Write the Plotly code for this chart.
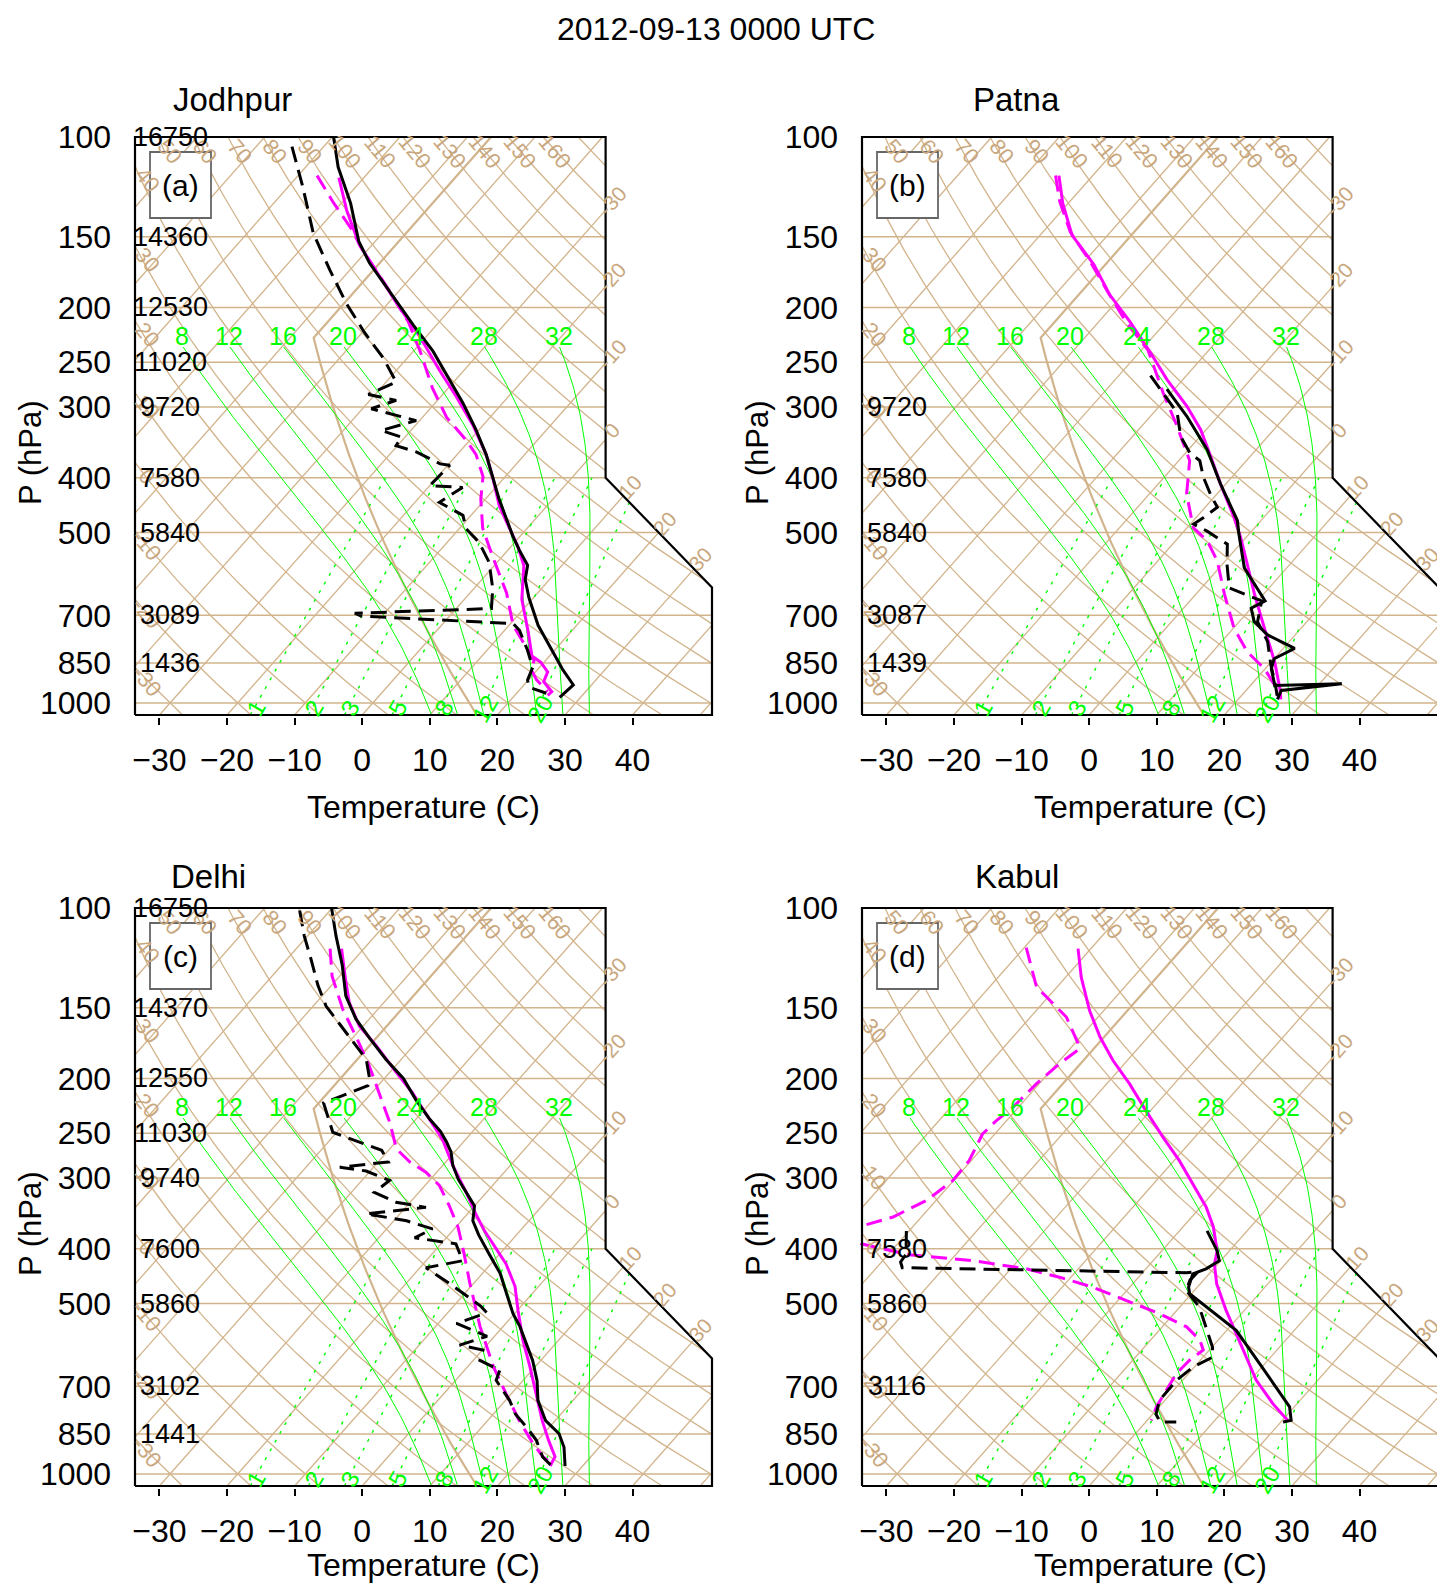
import numpy as np
import plotly.graph_objects as go

# ---------------------------------------------------------------
# soundings: pressure (hPa) and temperature (C)
# T = observed temperature, TD = observed dew point,
# MT / MTD = model temperature / dew point
# ---------------------------------------------------------------

# Jodhpur
JOD_T_P = [100, 113, 131, 153, 167, 188, 215, 239, 262, 295, 328, 364, 436, 506, 537, 571, 605, 651, 729, 809, 874, 929, 977]
JOD_T = [-79.8, -75.2, -68.6, -62.4, -58.0, -51.2, -43.4, -37.1, -32.2, -25.9, -20.6, -15.7, -8.0, -1.2, 1.7, 4.9, 6.4, 9.3, 14.3, 19.7, 23.8, 27.3, 26.9]
JOD_TD_P = [104, 122, 148, 172, 197, 221, 246, 271, 285, 292, 302, 317, 330, 339, 351, 360, 378, 380, 413, 416, 442, 466, 492,
            520, 564, 628, 681, 694, 702, 724, 744, 807, 865, 911, 938, 961]
JOD_TD = [-84.7, -78.0, -70.2, -62.9, -56.1, -49.8, -43.5, -38.5, -41.0, -36.1, -38.7, -30.5, -34.4, -30.5, -30.2, -26.4, -21.3, -19.7, -20.0, -14.9, -16.4, -11.2, -9.0,
          -5.3, -1.2, 2.8, 5.2, -14.4, -13.1, 10.4, 12.2, 16.0, 19.0, 19.9, 21.1, 24.4]
JOD_MT_P = [118, 135, 155, 177, 200, 225, 258, 287, 323, 364, 404, 449, 491, 529, 572, 656, 747, 826, 847, 881, 917, 955, 970]
JOD_MT = [-73.7, -68.2, -61.9, -54.6, -47.8, -41.0, -33.7, -27.8, -21.5, -15.7, -11.3, -7.0, -2.6, 1.0, 4.4, 8.5, 13.6, 17.4, 19.5, 21.8, 22.5, 25.0, 24.9]
JOD_MTD_P = [117, 130, 146, 157, 185, 212, 239, 278, 313, 343, 364, 398, 436, 491, 549, 639, 729, 809, 841, 875, 910, 955]
JOD_MTD = [-77.2, -71.5, -64.9, -61.2, -52.0, -44.6, -39.0, -32.3, -26.4, -20.6, -17.2, -13.3, -10.7, -6.6, -1.6, 5.4, 10.6, 16.3, 18.3, 19.2, 21.2, 24.4]
JOD_Z_P = [100, 150, 200, 250, 300, 400, 500, 700, 850]
JOD_Z = ["16750", "14360", "12530", "11020", "9720", "7580", "5840", "3089", "1436"]

# Patna
PAT_T_P = [279, 311.5, 357, 410, 476, 503, 577, 660, 680, 718, 758, 801, 835, 870, 931, 925, 950, 985]
PAT_T = [-31.1, -24.6, -17.2, -10.8, -3.5, -1.5, 3.7, 11.1, 10.0, 12.2, 15.9, 21.7, 20.0, 20.9, 23.6, 33.3, 25.2, 25.8]
PAT_TD_P = [264, 283, 307, 338, 362, 373, 399, 427, 451, 470, 483, 497, 524, 569, 626, 642, 660, 718, 779, 858, 919, 971]
PAT_TD = [-35.3, -31.2, -26.5, -22.9, -19.3, -16.9, -14.2, -11.0, -8.2, -8.9, -9.5, -6.6, -1.9, 0.7, 4.1, 7.2, 10.6, 12.7, 16.8, 20.4, 23.2, 25.3]
PAT_MT_P = [117, 131, 149, 168, 190, 212, 240, 268, 299, 329, 367, 410, 470, 510, 569, 643, 738, 846, 944, 985]
PAT_MT = [-75.0, -70.8, -65.3, -58.2, -51.9, -45.4, -38.4, -32.4, -25.9, -20.8, -15.8, -10.8, -4.4, -0.8, 3.7, 8.7, 14.6, 20.5, 24.8, 26.3]
PAT_MTD_P = [117, 130, 147, 167, 188, 212, 238, 283, 324, 373, 427, 490, 517, 561, 642, 738, 813, 870, 931, 972]
PAT_MTD = [-75.5, -71.5, -66.0, -58.8, -52.5, -46.0, -39.0, -31.2, -24.8, -18.4, -14.5, -9.1, -5.3, -1.2, 4.2, 10.1, 15.2, 19.9, 23.6, 25.4]
PAT_Z_P = [300, 400, 500, 700, 850]
PAT_Z = ["9720", "7580", "5840", "3087", "1439"]

# Delhi
DEL_T_P = [100, 112, 126, 143, 157, 170, 185, 200, 218, 236, 248, 259, 270, 285, 302, 336, 357, 378, 409, 442, 480, 521, 549,
           588, 630, 684, 741, 805, 849, 897, 968]
DEL_T = [-80.1, -75.8, -71.1, -66.5, -62.0, -57.4, -52.3, -47.2, -42.6, -38.0, -34.8, -32.5, -30.5, -28.5, -25.8, -20.0, -18.3, -15.6, -11.5, -7.4, -3.8, -0.2, 2.5,
         5.7, 8.8, 12.1, 14.8, 18.6, 22.3, 24.8, 27.4]
DEL_TD_P = [101, 112, 123, 137, 149, 163.5, 175, 185, 200, 206, 221, 249, 268, 281, 287, 291.5, 303, 318, 331, 338, 347, 357, 369,
            382.5, 392, 420, 432, 466, 505, 519, 542, 571, 592, 604, 630, 655, 683, 741, 784, 826, 872, 933, 972]
DEL_TD = [-84.5, -80.5, -76.5, -72.0, -68.1, -62.6, -58.5, -55.2, -52.2, -51.5, -55.8, -50.6, -41.0, -38.5, -45.0, -40.6, -35.9, -36.6, -32.1, -27.0, -35.0, -28.1, -23.2,
          -24.7, -17.8, -14.6, -19.1, -12.6, -6.0, -4.2, -7.3, -1.1, -4.0, 0.1, 1.0, 5.2, 6.0, 10.6, 13.3, 16.6, 19.8, 22.9, 25.7]
DEL_MT_P = [118, 133, 147, 161.5, 175, 195, 212, 236, 256, 285, 318, 349, 373, 425, 466, 514, 580, 646, 721, 805, 872, 932, 968]
DEL_MT = [-73.3, -68.9, -65.1, -60.6, -55.5, -49.1, -44.0, -38.0, -33.5, -28.5, -23.0, -18.5, -15.1, -7.8, -3.5, 0.1, 4.7, 9.2, 13.7, 18.1, 21.6, 24.7, 25.2]
DEL_MTD_P = [118, 132, 151, 170, 190, 212, 239, 266.5, 281, 293, 309, 335.5, 366, 404, 460, 549, 646, 721, 805, 883, 932, 956]
DEL_MTD = [-75.0, -71.1, -65.2, -59.3, -53.9, -48.9, -43.5, -39.0, -35.3, -31.6, -27.9, -23.8, -19.7, -15.7, -10.6, -3.4, 3.8, 9.2, 14.7, 19.7, 22.9, 24.9]
DEL_Z_P = [100, 150, 200, 250, 300, 400, 500, 700, 850]
DEL_Z = ["16750", "14370", "12550", "11030", "9740", "7600", "5860", "3102", "1441"]

# Kabul
KAB_T_P = [372, 403.5, 420, 434, 443, 467.5, 480, 557.5, 638, 702, 761, 804, 809]
KAB_T = [-15.9, -11.8, -10.2, -11.1, -12.4, -11.3, -10.3, 1.4, 9.2, 14.7, 19.3, 21.3, 20.3]
KAB_TD_P = [372, 409, 422, 432, 441, 439, 454.5, 474, 507, 550, 597, 622, 647, 683, 741, 784, 809, 809]
KAB_TD = [-60.4, -57.4, -57.2, -56.2, -13.5, -11.9, -12.0, -11.2, -7.1, -3.5, 0.1, 1.4, -0.2, -0.9, -0.8, 0.5, 2.1, 4.5]
KAB_MT_P = [118, 132.5, 151.8, 169, 186, 204.5, 228, 254, 279.5, 307, 338, 366, 403.5, 425.5, 461, 514, 597, 683, 751, 804]
KAB_MT = [-71.9, -67.7, -62.1, -57.1, -52.1, -46.6, -40.7, -34.7, -29.2, -24.2, -19.1, -15.5, -11.8, -10.5, -7.6, -2.7, 4.5, 10.9, 16.4, 20.8]
KAB_MTD_P = [117.5, 129.5, 138, 143.5, 155.8, 173.5, 177.6, 188.5, 204.5, 225, 237.5, 250.7, 279.5, 303, 328.5, 351.5, 364, 377, 392,
             409.8, 420.5, 434, 449, 467.5, 493, 521, 549.5, 580, 604, 630, 665, 711, 761, 804]
KAB_MTD = [-79.7, -75.7, -73.0, -70.3, -64.7, -59.5, -58.6, -59.6, -60.4, -60.8, -61.5, -61.8, -60.3, -60.1, -61.4, -64.2, -67.5, -68.2, -65.4,
           -56.9, -46.2, -37.7, -31.7, -25.5, -18.8, -12.1, -6.4, -2.7, -0.9, -1.6, -1.8, -1.1, -0.4, 0.6]
KAB_Z_P = [400, 500, 700]
KAB_Z = ["7580", "5860", "3116"]

# background values
ISOBARS = [1000, 850, 700, 500, 400, 300, 250, 200, 150]
ISOTHERMS = list(range(-100, 60, 10))
THETAS = list(range(-30, 180, 10))
THETA_LABELS = list(range(-30, 170, 10))
PSEUDO = [8, 12, 16, 20, 24, 28, 32]
MIXRAT = [1, 2, 3, 5, 8, 12, 20]
P_TICKS = [100, 150, 200, 250, 300, 400, 500, 700, 850, 1000]
T_TICKS = [-30, -20, -10, 0, 10, 20, 30, 40]

PANELS = [
    ("Jodhpur", "(a)", (JOD_T_P, JOD_T), (JOD_TD_P, JOD_TD), (JOD_MT_P, JOD_MT), (JOD_MTD_P, JOD_MTD), (JOD_Z_P, JOD_Z)),
    ("Patna", "(b)", (PAT_T_P, PAT_T), (PAT_TD_P, PAT_TD), (PAT_MT_P, PAT_MT), (PAT_MTD_P, PAT_MTD), (PAT_Z_P, PAT_Z)),
    ("Delhi", "(c)", (DEL_T_P, DEL_T), (DEL_TD_P, DEL_TD), (DEL_MT_P, DEL_MT), (DEL_MTD_P, DEL_MTD), (DEL_Z_P, DEL_Z)),
    ("Kabul", "(d)", (KAB_T_P, KAB_T), (KAB_TD_P, KAB_TD), (KAB_MT_P, KAB_MT), (KAB_MTD_P, KAB_MTD), (KAB_Z_P, KAB_Z)),
]

# ---------------------------------------------------------------
# skew-T geometry (same coordinates as the NCL skewT background)
# ---------------------------------------------------------------
W, H = 1445, 1594              # page size
M = 8                          # default body margin of the html page
FIGW, FIGH = W - M, H - 2 * M
XMIN, XMAX = -19.0, 27.1
YMIN, YMAX = -0.9346217, 44.061
PAD = 0.15
FW, FH = 577.0, 578.0          # frame size in pixels
UX = FW / (XMAX - XMIN)
UY = FH / (YMAX - YMIN)
FRAME_PX = [(135, 137), (862, 137), (135, 908), (862, 908)]   # frame top-left on the page
TITLE_PX = [(171, 100), (971, 100), (169, 876), (973, 876)]   # left end of the station names

TAN = "#D2B48C"
TANTXT = "#C9A77E"
GREEN = "#00FF00"
FONT = "Liberation Sans, Arial, sans-serif"


def px2paper(x, y):
    return (x - M) / FIGW, 1 - (y - M) / FIGH


def sky(p):
    return 132.182 - 44.061 * np.log10(np.asarray(p, dtype=float))


def skx(t, y):
    return 0.54 * np.asarray(t, dtype=float) + 0.90692 * y


# the frame is concave (cut corner), so clip against its two convex halves
PART_A = np.array([[XMIN, YMIN], [18.6, YMIN], [18.6, YMAX], [XMIN, YMAX]])
PART_B = np.array([[18.6, YMIN], [XMAX, YMIN], [XMAX, 9.0], [18.6, 17.53]])
FRAME = [[XMIN, YMIN], [XMAX, YMIN], [XMAX, 9.0], [18.6, 17.53], [18.6, YMAX], [XMIN, YMAX], [XMIN, YMIN]]


def clip_t(a, b, poly):
    t0, t1 = 0.0, 1.0
    d = b - a
    n = len(poly)
    for i in range(n):
        e = poly[(i + 1) % n] - poly[i]
        nrm = np.array([-e[1], e[0]])
        num = nrm @ (a - poly[i])
        den = nrm @ d
        if abs(den) < 1e-12:
            if num < 0:
                return None
            continue
        t = -num / den
        if den > 0:
            t0 = max(t0, t)
        else:
            t1 = min(t1, t)
        if t0 > t1:
            return None
    return [t0, t1]


def clip_line(xs, ys):
    pts = np.column_stack([np.asarray(xs, float), np.asarray(ys, float)])
    pieces, cur = [], []
    for i in range(len(pts) - 1):
        a, b = pts[i], pts[i + 1]
        ivs = [r for r in (clip_t(a, b, PART_A), clip_t(a, b, PART_B)) if r is not None and r[1] - r[0] > 1e-12]
        ivs.sort()
        merged = []
        for t0, t1 in ivs:
            if merged and t0 <= merged[-1][1] + 1e-9:
                merged[-1][1] = max(merged[-1][1], t1)
            else:
                merged.append([t0, t1])
        for t0, t1 in merged:
            if not (cur and t0 < 1e-9):
                if cur:
                    pieces.append(cur)
                cur = [list(a + t0 * (b - a))]
            cur.append(list(a + t1 * (b - a)))
            if t1 < 1 - 1e-9:
                pieces.append(cur)
                cur = []
        if not merged and cur:
            pieces.append(cur)
            cur = []
    if cur:
        pieces.append(cur)
    return [np.array(p) for p in pieces if len(p) > 1]


def wobf(t):
    # Wobus function used by the classic skew-T programs
    x = t - 20.0
    if x <= 0:
        pol = 1 + x * (-8.8416605e-03 + x * (1.4714143e-04 + x * (-9.6719890e-07
                       + x * (-3.2607217e-08 + x * (-3.8598073e-10)))))
        return 15.130 / pol ** 4
    pol = 1 + x * (3.6182989e-03 + x * (-1.3603273e-05 + x * (4.9618922e-07 + x * (-6.1059365e-09
                   + x * (3.9401551e-11 + x * (-1.2588129e-13 + x * 1.6688280e-16))))))
    return 29.930 / pol ** 4 + 0.96 * x - 14.8


def satlft(thw, p):
    # temperature where the moist adiabat thw (C) crosses pressure p
    if abs(p - 1000.0) < 1e-9:
        return thw
    pwrp = (p / 1000.0) ** 0.28541
    tone = (thw + 273.15) * pwrp - 273.15
    eone = wobf(tone) - wobf(thw)
    rate = 1.0
    ttwo, dor = tone, 0.0
    for _ in range(60):
        ttwo = tone - eone * rate
        pt = (ttwo + 273.15) / pwrp - 273.15
        etwo = pt + wobf(ttwo) - wobf(pt) - thw
        dor = etwo * rate
        if abs(dor) < 0.005 or abs(etwo - eone) < 1e-12:
            break
        rate = (ttwo - tone) / (etwo - eone)
        tone, eone = ttwo, etwo
    return ttwo - dor


def dewpoint_from_w(w, p):
    e = w * p / (622.0 + w)
    a = np.log(e / 6.112)
    return 243.5 * a / (17.67 - a)


def join(sets):
    xs, ys = [], []
    for pieces in sets:
        for s in pieces:
            xs += list(s[:, 0]) + [None]
            ys += list(s[:, 1]) + [None]
    return xs, ys


# background line sets (diagram coordinates)
yy = np.array([YMIN, YMAX])
iso_sets = [clip_line(skx(t, yy), yy) for t in ISOTHERMS]
bar_sets = [clip_line(np.array([XMIN, XMAX]), np.full(2, sky(p))) for p in ISOBARS]

pp = np.geomspace(1050, 100, 260)
theta_sets = []
for th in THETAS:
    tt = (th + 273.15) * (pp / 1000.0) ** 0.2857 - 273.15
    theta_sets.append(clip_line(skx(tt, sky(pp)), sky(pp)))

pw = np.geomspace(1050, 235, 90)
moist_sets = []
for thw in PSEUDO:
    mt = np.array([satlft(thw, p) for p in pw])
    moist_sets.append(clip_line(skx(mt, sky(pw)), sky(pw)))

pm = np.geomspace(1050, 400, 60)
mix_sets = [clip_line(skx(dewpoint_from_w(w, pm), sky(pm)), sky(pm)) for w in MIXRAT]

std_p = np.concatenate([np.geomspace(1050, 226.32, 80), np.geomspace(226.32, 100, 20)[1:]])
std_t = np.where(std_p >= 226.32, 288.15 * (std_p / 1013.25) ** 0.190263 - 273.15, -56.5)
std_set = clip_line(skx(std_t, sky(std_p)), sky(std_p))

fig = go.Figure()
layout = {}
annotations = []
shapes = []


def note(x, y, text, size, color="black", xref="paper", yref="paper", angle=0, xanchor="center"):
    annotations.append(dict(x=x, y=y, xref=xref, yref=yref, text=text, showarrow=False, textangle=angle,
                            xanchor=xanchor, yanchor="middle", font=dict(size=size, color=color, family=FONT)))


for i, (name, tag, obs_t, obs_td, mod_t, mod_td, heights) in enumerate(PANELS):
    suf = "" if i == 0 else str(i + 1)
    xr, yr = "x" + suf, "y" + suf
    left, top = FRAME_PX[i]
    dx0, dy1 = px2paper(left - PAD * UX, top - PAD * UY)
    dx1, dy0 = px2paper(left + FW + PAD * UX, top + FH + PAD * UY)

    layout["xaxis" + suf] = dict(
        domain=[dx0, min(dx1, 1.0)], range=[XMIN - PAD, XMAX + PAD], anchor=yr, automargin=False,
        showgrid=False, zeroline=False, showline=False,
        tickvals=list(skx(T_TICKS, YMIN)),
        ticktext=[("\u2212" + str(-t)) if t < 0 else str(t) for t in T_TICKS],
        ticks="outside", ticklen=7, tickwidth=1.5, tickcolor="black",
        tickfont=dict(size=32, color="black", family=FONT), ticklabelstandoff=8,
    )
    layout["yaxis" + suf] = dict(
        domain=[dy0, dy1], range=[YMIN - PAD, YMAX + PAD], anchor=xr, automargin=False,
        showgrid=False, zeroline=False, showline=False,
        tickvals=list(sky(P_TICKS)), ticktext=[str(p) for p in P_TICKS],
        ticks="", tickfont=dict(size=32, color="black", family=FONT), ticklabelstandoff=21,
    )

    def add_line(xs, ys, color, width, dash=None):
        fig.add_trace(go.Scatter(x=xs, y=ys, mode="lines", xaxis=xr, yaxis=yr, hoverinfo="skip",
                                 line=dict(color=color, width=width, dash=dash), showlegend=False))

    x, y = join(bar_sets)
    add_line(x, y, TAN, 1.5)
    x, y = join(iso_sets)
    add_line(x, y, TAN, 1.3)
    x, y = join(theta_sets)
    add_line(x, y, TAN, 1.3)
    x, y = join([std_set])
    add_line(x, y, TAN, 2.2)
    x, y = join(moist_sets)
    add_line(x, y, GREEN, 1.0)
    x, y = join(mix_sets)
    add_line(x, y, GREEN, 1.4, "3px,7px")

    # soundings
    for (pv, tv), color, dash in [(mod_td, "#FF00FF", "16px,8px"), (mod_t, "#FF00FF", None),
                                  (obs_td, "black", "16px,8px"), (obs_t, "black", None)]:
        yv = sky(pv)
        add_line(list(skx(tv, yv)), list(yv), color, 3.0, dash)

    add_line([p[0] for p in FRAME], [p[1] for p in FRAME], "black", 2.2)

    # dry adiabat labels at the top / left end of each adiabat
    for th, pieces in zip(THETAS, theta_sets):
        if th not in THETA_LABELS or not pieces:
            continue
        ex, ey = pieces[-1][-1]
        if abs(ey - YMAX) < 1e-6:
            lx, ly = ex + 8 / UX, ey - 15 / UY
        else:
            lx, ly = ex + 12 / UX, ey - 14 / UY
        note(lx, ly, str(th), 22, TANTXT, xr, yr, 50)
    # isotherm labels on the right edge
    for t, pieces in zip(ISOTHERMS, iso_sets):
        if t < -30 or t > 30 or not pieces:
            continue
        ex, ey = pieces[-1][-1]
        note(ex + 6 / UX, ey + 9 / UY, str(t), 21, TANTXT, xr, yr, -48)
    # moist adiabat labels just above the top of each line
    for thw, pieces in zip(PSEUDO, moist_sets):
        ex, ey = pieces[-1][-1]
        note(ex - 1 / UX, ey + 11 / UY, str(thw), 25, GREEN, xr, yr)
    # mixing ratio labels
    for w, pieces in zip(MIXRAT, mix_sets):
        ex, ey = pieces[0][0]
        note(ex + 5 / UX, ey + 7 / UY, str(w), 24, GREEN, xr, yr, -60)
    # heights of the standard levels
    for p, z in zip(*heights):
        note(XMIN + 35 / UX, float(sky(p)), z, 27, "black", xr, yr)

    # panel tag box
    shapes.append(dict(type="rect", xref=xr, yref=yr, layer="above",
                       x0=XMIN + 15 / UX, x1=XMIN + 76 / UX, y0=YMAX - 81 / UY, y1=YMAX - 15 / UY,
                       fillcolor="white", line=dict(color="#666666", width=1.8)))
    note(XMIN + 45.5 / UX, YMAX - 48 / UY, tag, 30, "black", xr, yr)

    # titles
    tx, ty = px2paper(*TITLE_PX[i])
    note(tx, ty, name, 33, xanchor="left")
    tx, ty = px2paper(left + 288.5, top + 670 if top < 500 else top + 657)
    note(tx, ty, "Temperature (C)", 32)
    tx, ty = px2paper(left - 105, top + 316)
    note(tx, ty, "P (hPa)", 31, angle=-90)

tx, ty = px2paper(716, 29)
note(tx, ty, "2012-09-13 0000 UTC", 32)

fig.update_layout(width=FIGW, height=FIGH, margin=dict(l=0, r=0, t=0, b=0), plot_bgcolor="white",
                  paper_bgcolor="white", showlegend=False, annotations=annotations, shapes=shapes,
                  font=dict(family=FONT), **layout)

fig.write_html("out.html")
